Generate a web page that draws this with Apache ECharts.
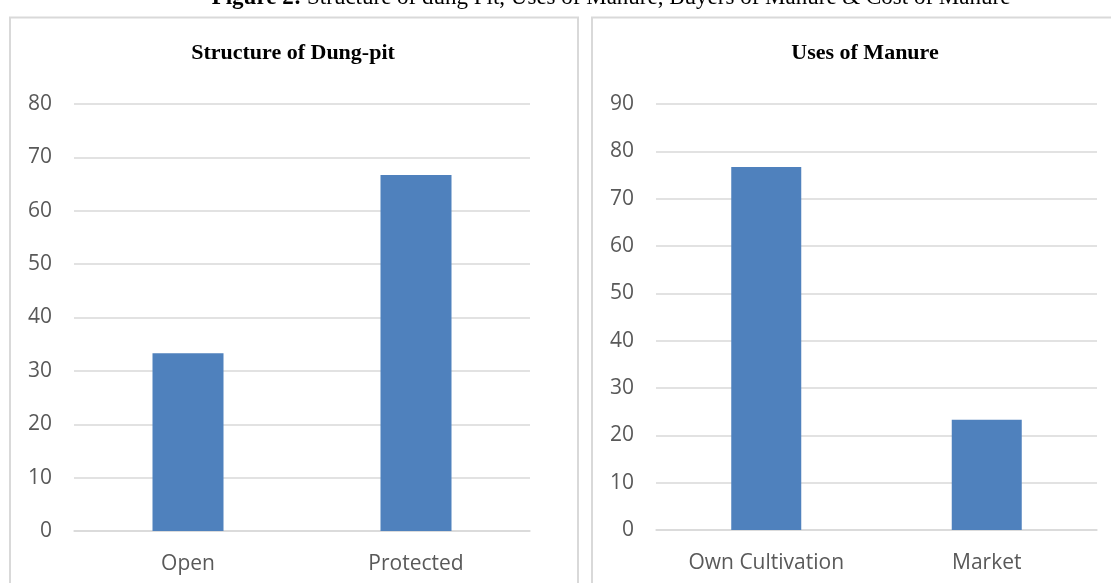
<!DOCTYPE html>
<html>
<head>
<meta charset="utf-8">
<script src="https://cdn.jsdelivr.net/npm/echarts@6/dist/echarts.min.js"></script>
<style>
  html, body { margin: 0; padding: 0; background: #fff; }
  #chart { width: 1111px; height: 583px; }
</style>
</head>
<body>
<div id="chart"></div>
<script>
// Structure of dung-pit (% of respondents)
const pitCategories = ['Open', 'Protected'];
const pitValues = [33.3, 66.7];
const pitTicks = { min: 0, max: 80, interval: 10 };

// Uses of manure (% of respondents)
const useCategories = ['Own Cultivation', 'Market'];
const useValues = [76.7, 23.3];
const useTicks = { min: 0, max: 90, interval: 10 };

const captionBold = 'Figure 2:';
const captionRest = ' Structure of dung Pit, Uses of Manure, Buyers of Manure & Cost of Manure';
const pitTitle = 'Structure of Dung-pit';
const useTitle = 'Uses of Manure';

const barColor = '#4f81bd';
const gridColor = '#d9d9d9';
const labelFont = { color: '#595959', fontSize: 21, fontFamily: 'Open Sans, Liberation Sans, sans-serif' };
const titleFont = { color: '#000', fontSize: 22, fontWeight: 'bold', fontFamily: 'Liberation Serif, serif' };

function valueAxis(gridIndex, ticks) {
  return {
    type: 'value', gridIndex,
    min: ticks.min, max: ticks.max, interval: ticks.interval,
    axisLine: { show: false }, axisTick: { show: false },
    axisLabel: Object.assign({ margin: 22 }, labelFont),
    splitLine: { lineStyle: { color: gridColor, width: 1.5 } }
  };
}
function categoryAxis(gridIndex, cats) {
  return {
    type: 'category', gridIndex, data: cats,
    axisLine: { lineStyle: { color: gridColor, width: 1.5 } },
    axisTick: { show: false },
    axisLabel: Object.assign({ margin: 23 }, labelFont)
  };
}

const chart = echarts.init(document.getElementById('chart'), null, { renderer: 'canvas' });
chart.setOption({
  backgroundColor: '#fff',
  animation: false,
  graphic: [
    { type: 'rect', shape: { x: 10, y: 17.5, width: 568, height: 600 },
      style: { fill: 'none', stroke: gridColor, lineWidth: 2 } },
    { type: 'rect', shape: { x: 592, y: 17.5, width: 600, height: 600 },
      style: { fill: 'none', stroke: gridColor, lineWidth: 2 } },
    { type: 'text', x: 611, y: -2,
      style: {
        text: '{b|' + captionBold + '}{r|' + captionRest + '}',
        align: 'center', verticalAlign: 'middle',
        rich: {
          b: { fontSize: 23, fontWeight: 'bold', fontFamily: 'Liberation Serif, serif', fill: '#000' },
          r: { fontSize: 23, fontFamily: 'Liberation Serif, serif', fill: '#000' }
        }
      } }
  ],
  title: [
    { text: pitTitle, left: 288, top: 37, textAlign: 'center', textStyle: titleFont },
    { text: useTitle, left: 860, top: 37, textAlign: 'center', textStyle: titleFont }
  ],
  grid: [
    { left: 74, right: 581, top: 104, bottom: 52 },
    { left: 656, right: 14, top: 104, bottom: 53 }
  ],
  xAxis: [categoryAxis(0, pitCategories), categoryAxis(1, useCategories)],
  yAxis: [valueAxis(0, pitTicks), valueAxis(1, useTicks)],
  series: [
    { type: 'bar', xAxisIndex: 0, yAxisIndex: 0, data: pitValues, barWidth: 71,
      itemStyle: { color: barColor } },
    { type: 'bar', xAxisIndex: 1, yAxisIndex: 1, data: useValues, barWidth: 70,
      itemStyle: { color: barColor } }
  ]
});
</script>
</body>
</html>
